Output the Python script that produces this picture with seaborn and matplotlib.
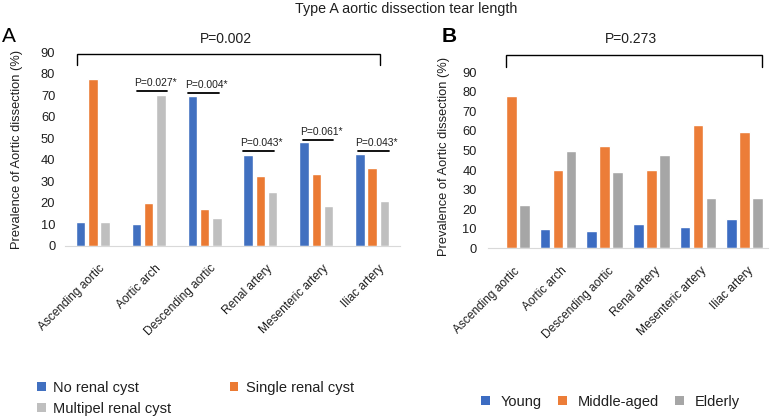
import matplotlib
matplotlib.use("Agg")
import matplotlib.pyplot as plt
import matplotlib.transforms as mtransforms
from matplotlib.patches import Patch
import seaborn as sns
import pandas as pd

# ---------------- data ----------------
sites = ["Ascending aortic", "Aortic arch", "Descending aortic",
         "Renal artery", "Mesenteric artery", "Iliac artery"]

groups_a = ["No renal cyst", "Single renal cyst", "Multipel renal cyst"]
no_cyst = [11.1, 10.0, 69.6, 42.5, 48.1, 42.9]
single_cyst = [77.8, 20.0, 17.4, 32.5, 33.3, 36.4]
multi_cyst = [11.1, 70.0, 13.0, 25.0, 18.5, 20.7]

groups_b = ["Young", "Middle-aged", "Elderly"]
young = [0.0, 10.0, 8.7, 12.5, 11.1, 14.8]
middle_aged = [77.8, 40.0, 52.2, 40.0, 63.0, 59.3]
elderly = [22.2, 50.0, 39.1, 47.5, 25.9, 25.9]

yticks = [0, 10, 20, 30, 40, 50, 60, 70, 80, 90]

title = "Type A aortic dissection tear length"
ylabel = "Prevalence of Aortic dissection (%)"
p_overall_a = "P=0.002"
p_overall_b = "P=0.273"
pair_labels = ["P=0.027*", "P=0.004*", "P=0.043*", "P=0.061*", "P=0.043*"]
pair_sites = [1, 2, 3, 4, 5]
pair_levels = [72.0, 71.0, 44.2, 49.2, 44.2]

# ---------------- style ----------------
sns.set_theme(style="white")
plt.rcParams["font.family"] = ["Liberation Sans", "DejaVu Sans"]
TXT = "#1f1f1f"

pal_a = {"No renal cyst": "#4170C0", "Single renal cyst": "#EB7A33",
         "Multipel renal cyst": "#BFBFBF"}
pal_b = {"Young": "#3C6CC2", "Middle-aged": "#EC7D38", "Elderly": "#A6A6A6"}

df_a = pd.DataFrame({
    "site": sites * 3,
    "group": [groups_a[0]] * 6 + [groups_a[1]] * 6 + [groups_a[2]] * 6,
    "value": no_cyst + single_cyst + multi_cyst,
})
df_b = pd.DataFrame({
    "site": sites * 3,
    "group": [groups_b[0]] * 6 + [groups_b[1]] * 6 + [groups_b[2]] * 6,
    "value": young + middle_aged + elderly,
})

W, H = 775, 420
fig = plt.figure(figsize=(W / 100, H / 100), dpi=100)


def px_axes(left, right, top, bottom):
    return fig.add_axes([left / W, 1 - bottom / H, (right - left) / W, (bottom - top) / H])


ax_a = px_axes(65, 400, 52.3, 246)
ax_b = px_axes(488, 768, 72.3, 248.3)

sns.barplot(data=df_a, x="site", y="value", hue="group", hue_order=groups_a,
            order=sites, palette=pal_a, width=0.66, gap=0.23, ax=ax_a,
            legend=False, saturation=1)
sns.barplot(data=df_b, x="site", y="value", hue="group", hue_order=groups_b,
            order=sites, palette=pal_b, width=0.836, gap=0.19, ax=ax_b,
            legend=False, saturation=1)

for ax, ypad, xoff in ((ax_a, 7, 10), (ax_b, 8, 7)):
    ax.set_ylim(0, 90)
    ax.set_xlim(-0.5, 5.5)
    ax.set_yticks(yticks)
    ax.set_yticklabels([str(v) for v in yticks], fontsize=9.3, color=TXT)
    ax.set_xticks(range(len(sites)))
    ax.set_xticklabels(sites, rotation=45, ha="right", va="center",
                       rotation_mode="anchor", fontsize=8.6, color=TXT)
    ax.tick_params(axis="y", length=0, pad=ypad)
    ax.tick_params(axis="x", length=0, pad=15)
    off = mtransforms.ScaledTranslation(xoff / 100, 0, fig.dpi_scale_trans)
    for lab in ax.get_xticklabels():
        lab.set_transform(lab.get_transform() + off)
    for s in ("top", "right", "left"):
        ax.spines[s].set_visible(False)
    ax.spines["bottom"].set_color("#D9D9D9")
    ax.spines["bottom"].set_linewidth(0.8)
    ax.set_xlabel("")
    ax.set_ylabel(ylabel, fontsize=9.3, color=TXT)
    ax.grid(False)

ax_a.yaxis.set_label_coords(-0.125, 0.5)
ax_b.yaxis.set_label_coords(-0.134, 0.52)

# overall brackets
def bracket(ax, x0, x1, ytop, ybot, text, tx, ty):
    ax.plot([x0, x0, x1, x1], [ybot, ytop, ytop, ybot], color="black", lw=1.0,
            clip_on=False, solid_joinstyle="miter")
    ax.text(tx, ty, text, ha="center", va="center", fontsize=10, color=TXT,
            clip_on=False)

bracket(ax_a, -0.29, 5.14, 89.1, 84.0, p_overall_a, 2.38, 96.1)
bracket(ax_b, -0.12, 5.365, 98.8, 92.8, p_overall_b, 2.56, 107.0)

# pairwise p-values in panel A
offsets = [(-0.216, 0.321), (-0.302, 0.258), (-0.306, 0.243), (-0.242, 0.306), (-0.257, 0.309)]
for s, lev, lab, (d0, d1) in zip(pair_sites, pair_levels, pair_labels, offsets):
    ax_a.plot([s + d0, s + d1], [lev, lev], color="black", lw=1.3, clip_on=False)
    ax_a.text(s + d0 - 0.05, lev + 1.3, lab, ha="left", va="bottom", fontsize=7.4,
              color=TXT, clip_on=False)

# titles and panel letters
fig.text(405.8 / W, 1 - 8.5 / H, title, ha="center", va="center", fontsize=10.3, color=TXT)
fig.text(2 / W, 1 - 42 / H, "A", ha="left", va="baseline", fontsize=15, color="black")
fig.text(442 / W, 1 - 42 / H, "B", ha="left", va="baseline", fontsize=15, color="black",
         fontweight="bold")

# legends
handles_a = [Patch(facecolor=pal_a[g], edgecolor="none", label=g) for g in groups_a]
order = [0, 2, 1]
fig.legend([handles_a[i] for i in order], [groups_a[i] for i in order],
           loc="upper left", bbox_to_anchor=(37 / W, 1 - 381 / H), ncol=2,
           frameon=False, fontsize=10.5, handlelength=0.6, handleheight=0.6,
           handletextpad=0.5, columnspacing=4.0, labelspacing=0.45, borderpad=0,
           borderaxespad=0, labelcolor=TXT)

handles_b = [Patch(facecolor=pal_b[g], edgecolor="none", label=g) for g in groups_b]
fig.legend(handles_b, groups_b, loc="upper left", bbox_to_anchor=(481 / W, 1 - 395 / H),
           ncol=3, frameon=False, fontsize=10.5, handlelength=0.6, handleheight=0.6,
           handletextpad=0.75, columnspacing=1.1, borderpad=0, borderaxespad=0,
           labelcolor=TXT)

fig.savefig("out.png", dpi=100)
